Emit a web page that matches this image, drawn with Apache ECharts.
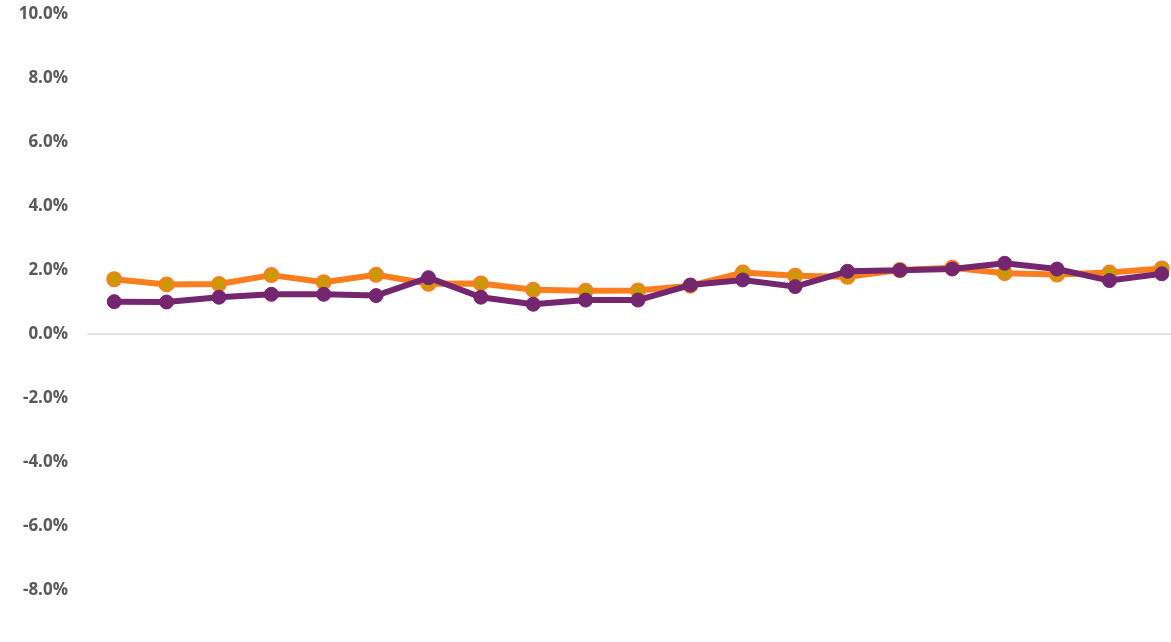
<!DOCTYPE html>
<html>
<head>
<meta charset="utf-8">
<script src="https://cdn.jsdelivr.net/npm/echarts@6/dist/echarts.min.js"></script>
<style>
  html, body { margin: 0; padding: 0; background: #ffffff; }
  #chart { width: 1171px; height: 642px; }
</style>
</head>
<body>
<div id="chart"></div>
<script>
// 21 periods, values in percent
const categories = ['1','2','3','4','5','6','7','8','9','10','11','12','13','14','15','16','17','18','19','20','21'];
const orangeSeries = [1.71, 1.55, 1.56, 1.84, 1.62, 1.85, 1.57, 1.58, 1.38, 1.35, 1.36, 1.51, 1.92, 1.82, 1.79, 2.00, 2.07, 1.90, 1.86, 1.92, 2.05];
const purpleSeries = [1.01, 1.00, 1.15, 1.24, 1.24, 1.20, 1.76, 1.15, 0.93, 1.06, 1.06, 1.53, 1.69, 1.48, 1.96, 1.99, 2.03, 2.21, 2.03, 1.67, 1.88];
const yMin = -10, yMax = 10, yStep = 2;

const chart = echarts.init(document.getElementById('chart'), null, { renderer: 'canvas' });
chart.setOption({
  animation: false,
  backgroundColor: '#ffffff',
  // plot area runs past the bottom and right edges of the canvas
  grid: { left: 88, right: -17, top: 14, bottom: -12, containLabel: false, outerBoundsMode: 'none' },
  xAxis: {
    type: 'category',
    data: categories,
    boundaryGap: true,
    axisLine: { onZero: true, lineStyle: { color: '#d9d9d9', width: 1.5 } },
    axisTick: { show: false },
    axisLabel: { show: false },
    splitLine: { show: false }
  },
  yAxis: {
    type: 'value',
    min: yMin,
    max: yMax,
    interval: yStep,
    axisLine: { show: false },
    axisTick: { show: false },
    splitLine: { show: false },
    axisLabel: {
      margin: 20,
      color: '#595959',
      fontFamily: 'Open Sans',
      fontWeight: 'bold',
      fontSize: 17,
      formatter: v => v.toFixed(1) + '%'
    }
  },
  series: [
    {
      name: 'A',
      type: 'line',
      data: orangeSeries,
      symbol: 'circle',
      symbolSize: 14,
      lineStyle: { color: '#FB7E1E', width: 6 },
      itemStyle: { color: '#C99A04', borderColor: '#FB7E1E', borderWidth: 2 },
      z: 2
    },
    {
      name: 'B',
      type: 'line',
      data: purpleSeries,
      symbol: 'circle',
      symbolSize: 14,
      lineStyle: { color: '#74276F', width: 6 },
      itemStyle: { color: '#74276F', borderColor: '#74276F', borderWidth: 1 },
      z: 3
    }
  ]
});
</script>
</body>
</html>
